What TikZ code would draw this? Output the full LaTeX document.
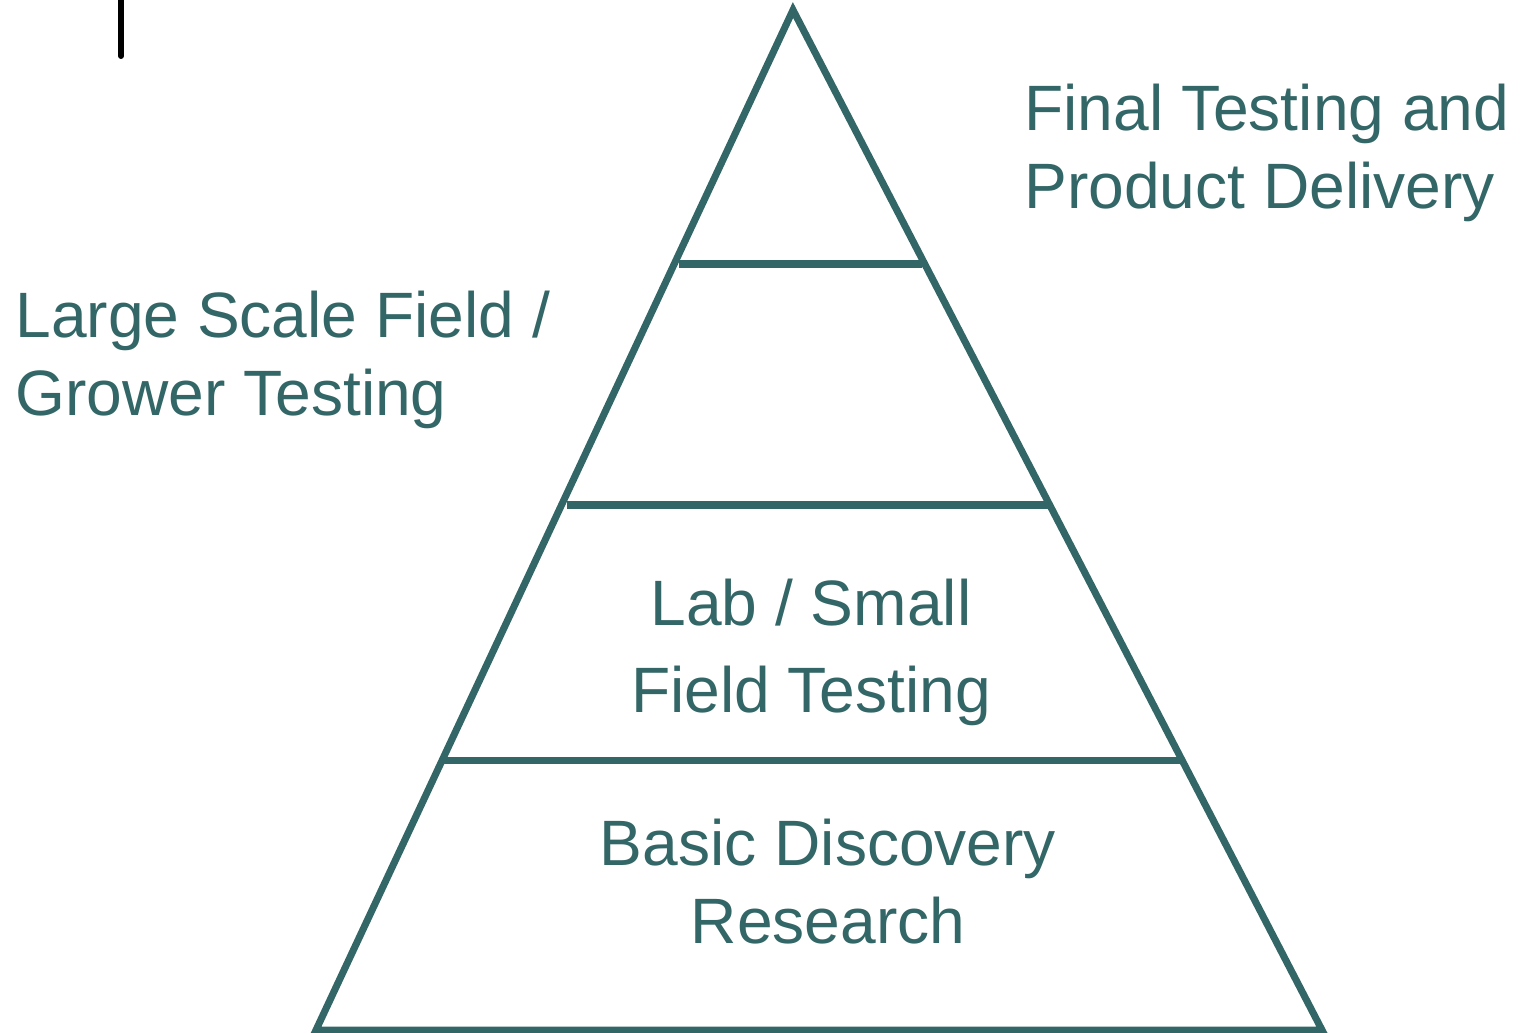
\documentclass[tikz,border=0pt]{standalone}
\usepackage{fontspec}
\setmainfont{Liberation Sans}
\definecolor{pyrteal}{RGB}{51,102,102}
\newcommand{\tiertext}{\fontsize{36.5}{44}\selectfont}
\tikzset{
    outline/.style={draw=pyrteal, line width=4pt, line join=miter},
    divider/.style={draw=pyrteal, line width=4pt},
    tier/.style={text=pyrteal, inner sep=0pt, font=\tiertext},
    marker/.style={draw=black, line width=3.4pt, line cap=round}
}

\begin{document}
\begin{tikzpicture}[x=0.02cm, y=-0.02cm]
    \useasboundingbox (0,0) rectangle (1520,1032);

    % pyramid corners
    \coordinate (apex) at (793,10);
    \coordinate (base-left) at (316,1030);
    \coordinate (base-right) at (1322,1030);

    % divider ends
    \coordinate (top-l) at (679,264);
    \coordinate (top-r) at (922,264);
    \coordinate (mid-l) at (567,505);
    \coordinate (mid-r) at (1048,505);
    \coordinate (low-l) at (443,760);
    \coordinate (low-r) at (1181,760);

    \coordinate (mark-top) at (121,0);
    \coordinate (mark-end) at (121,56);

    \draw[outline] (apex) -- (base-right) -- (base-left) -- cycle;
    \draw[divider] (top-l) -- (top-r);
    \draw[divider] (mid-l) -- (mid-r);
    \draw[divider] (low-l) -- (low-r);

    \draw[marker] (mark-top) -- (mark-end);

    % labels, placed by the baseline of their last line
    \path
      node[tier, anchor=base west, align=left] (final) at (1024,208) {Final Testing and\\Product Delivery}
      node[tier, anchor=base west, align=left] (large) at (15,415) {Large Scale Field /\\Grower Testing}
      node[tier, anchor=base, align=center] (lab) at (811,712) {Lab / Small\\[5pt]Field Testing}
      node[tier, anchor=base, align=center] (basic) at (828,943) {Basic Discovery\\Research};
\end{tikzpicture}
\end{document}
